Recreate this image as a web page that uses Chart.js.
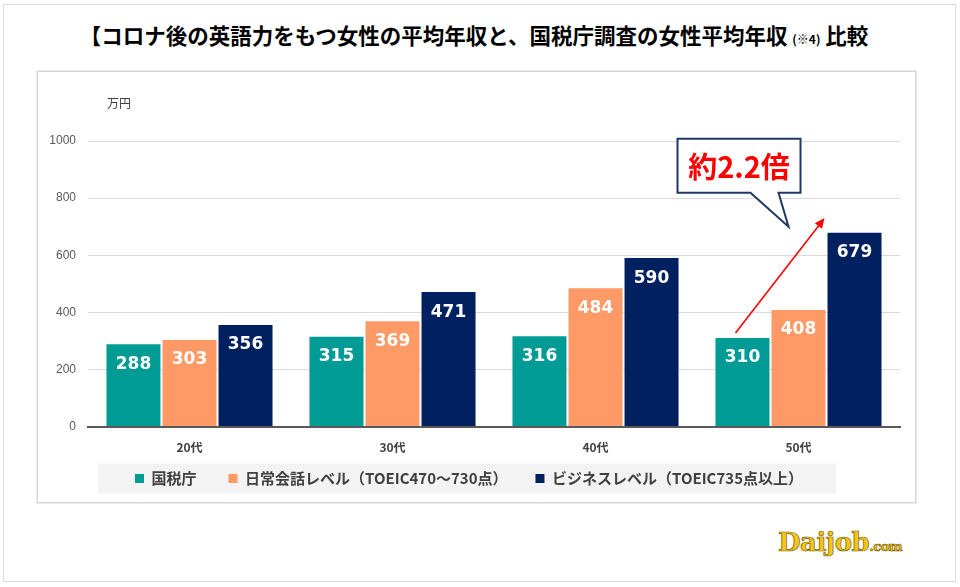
<!DOCTYPE html>
<html lang="ja">
<head>
<meta charset="utf-8">
<script src="https://cdn.jsdelivr.net/npm/chart.js@4.4.0/dist/chart.umd.min.js"></script>
<style>
  body { margin: 0; width: 960px; height: 587px; background: #fff; position: relative; overflow: hidden;
         font-family: "Noto Sans CJK JP", sans-serif; }
  #frame { position: absolute; left: 3px; top: 4px; width: 951px; height: 576px; border: 1.5px solid #dcdcdc; }
  #title { position: absolute; left: -6px; width: 960px; top: 19px; text-align: center; font-weight: bold;
           font-size: 21.5px; color: #000; }
  #title small { font-size: 12px; font-weight: bold; }
  #box { position: absolute; left: 38px; top: 72px; width: 877px; height: 430px; box-shadow: 0 0 0 1.5px #d6d6d6; }
  #logo { position: absolute; left: 778px; top: 527px; font-family: "DejaVu Serif", serif; font-weight: bold;
          font-size: 26px; color: #f4c51c; -webkit-text-stroke: 0.7px #7a5d00; letter-spacing: -0.5px; }
  #logo span { font-size: 13px; }
</style>
</head>
<body>
<div id="frame"></div>
<div id="title">【コロナ後の英語力をもつ女性の平均年収と、国税庁調査の女性平均年収 <small>(※4)</small> 比較</div>
<div id="box"><canvas id="chart" width="877" height="430"></canvas></div>
<div id="logo">Daijob<span>.com</span></div>
<script>
const categories = ["20代", "30代", "40代", "50代"];
const seriesNames = ["国税庁", "日常会話レベル（TOEIC470～730点）", "ビジネスレベル（TOEIC735点以上）"];
const ntaValues = [288, 315, 316, 310];
const dailyValues = [303, 369, 484, 408];
const businessValues = [356, 471, 590, 679];
const yTicks = [0, 200, 400, 600, 800, 1000];
const seriesColors = ["#009B95", "#FF9966", "#002060"];
const legendGaps = ["　　", "　　 ", ""];
const unitLabel = "万円";
const calloutText = "約2.2倍";
const arrowTop = 730;     // value the red arrow reaches
const calloutTip = 700;   // value where the speech bubble tip sits

const jp = '"Noto Sans CJK JP", sans-serif';

// grey panel behind the legend
const legendPanel = {
  id: "legendPanel",
  beforeDraw(chart) {
    const boxes = chart.legend.legendHitBoxes;
    if (!boxes || !boxes.length) return;
    const left = Math.min(...boxes.map(b => b.left)) - 37;
    const right = Math.max(...boxes.map(b => b.left + b.width)) + 33;
    const midY = boxes[0].top + boxes[0].height / 2;
    const ctx = chart.ctx;
    ctx.save();
    ctx.fillStyle = "#f3f3f3";
    ctx.fillRect(left, midY - 15, right - left, 30);
    ctx.restore();
  }
};

// white numbers inside the bars, unit label, callout and arrow
const extras = {
  id: "extras",
  afterDatasetsDraw(chart) {
    const ctx = chart.ctx;
    ctx.save();
    ctx.fillStyle = "#fff";
    ctx.font = 'bold 17px "DejaVu Sans", sans-serif';
    ctx.textAlign = "center";
    ctx.textBaseline = "middle";
    chart.data.datasets.forEach((ds, i) => {
      chart.getDatasetMeta(i).data.forEach((bar, j) => {
        ctx.fillText(ds.data[j], bar.x, bar.y + 20);
      });
    });
    ctx.restore();
  },
  afterDraw(chart) {
    const ctx = chart.ctx;
    const y = chart.scales.y;
    const area = chart.chartArea;
    ctx.save();
    ctx.fillStyle = "#404040";
    ctx.font = "12px " + jp;
    ctx.textAlign = "center";
    ctx.textBaseline = "middle";
    ctx.fillText(unitLabel, area.left + 31, area.top - 38);

    const last = categories.length - 1;
    const lowBar = chart.getDatasetMeta(0).data[last];
    const highBar = chart.getDatasetMeta(2).data[last];

    // red arrow
    const x0 = lowBar.x - 7, y0 = lowBar.y - 5;
    const x1 = highBar.x - highBar.width / 2 - 3, y1 = y.getPixelForValue(arrowTop);
    const ang = Math.atan2(y1 - y0, x1 - x0);
    ctx.strokeStyle = "#ff0000";
    ctx.fillStyle = "#ff0000";
    ctx.lineWidth = 1.6;
    ctx.beginPath();
    ctx.moveTo(x0, y0);
    ctx.lineTo(x1 - 7 * Math.cos(ang), y1 - 7 * Math.sin(ang));
    ctx.stroke();
    ctx.beginPath();
    ctx.moveTo(x1, y1);
    ctx.lineTo(x1 - 10 * Math.cos(ang) + 4.5 * Math.sin(ang), y1 - 10 * Math.sin(ang) - 4.5 * Math.cos(ang));
    ctx.lineTo(x1 - 10 * Math.cos(ang) - 4.5 * Math.sin(ang), y1 - 10 * Math.sin(ang) + 4.5 * Math.cos(ang));
    ctx.closePath();
    ctx.fill();

    // speech bubble
    const tipX = highBar.x - highBar.width / 2 - 39;
    const tipY = y.getPixelForValue(calloutTip);
    const bottom = tipY - 34, top = bottom - 54;
    const left = tipX - 111, right = tipX + 12;
    ctx.beginPath();
    ctx.moveTo(left, top);
    ctx.lineTo(right, top);
    ctx.lineTo(right, bottom);
    ctx.lineTo(tipX - 10, bottom);
    ctx.lineTo(tipX, tipY);
    ctx.lineTo(tipX - 38, bottom);
    ctx.lineTo(left, bottom);
    ctx.closePath();
    ctx.fillStyle = "#fff";
    ctx.fill();
    ctx.strokeStyle = "#1f3864";
    ctx.lineWidth = 2;
    ctx.stroke();
    ctx.fillStyle = "#ff0000";
    ctx.font = "bold 29px " + jp;
    ctx.fillText(calloutText, (left + right) / 2, (top + bottom) / 2 + 1);
    ctx.restore();
  }
};

new Chart(document.getElementById("chart"), {
  type: "bar",
  data: {
    labels: categories,
    datasets: [ntaValues, dailyValues, businessValues].map((vals, i) => ({
      label: seriesNames[i],
      data: vals,
      backgroundColor: seriesColors[i],
      categoryPercentage: 0.828,
      barPercentage: 0.964
    }))
  },
  options: {
    responsive: false,
    animation: false,
    layout: { padding: { top: 69, right: 15, bottom: 6, left: 0 } },
    scales: {
      x: {
        grid: { display: false },
        border: { color: "#595959", width: 2 },
        ticks: { color: "#404040", font: { family: jp, size: 12, weight: "bold" }, padding: 6 },
        afterFit(scale) { scale.height += 8; }
      },
      y: {
        min: 0,
        max: 1000,
        afterBuildTicks(scale) { scale.ticks = yTicks.map(v => ({ value: v })); },
        grid: { color: "#d9d9d9", drawTicks: false },
        border: { display: false },
        ticks: {
          color: "#595959",
          font: { family: '"Liberation Sans", sans-serif', size: 12 },
          padding: 12,
          callback: v => String(v)
        },
        afterFit(scale) { scale.width = 50; }
      }
    },
    plugins: {
      tooltip: { enabled: false },
      legend: {
        position: "bottom",
        labels: {
          boxWidth: 9,
          boxHeight: 9,
          padding: 2,
          color: "#404040",
          font: { family: jp, size: 15, weight: "bold" },
          generateLabels(chart) {
            return chart.data.datasets.map((ds, i) => ({
              text: ds.label + legendGaps[i],
              fillStyle: ds.backgroundColor,
              strokeStyle: ds.backgroundColor,
              lineWidth: 0,
              datasetIndex: i,
              fontColor: "#404040"
            }));
          }
        }
      }
    }
  },
  plugins: [legendPanel, extras]
});
</script>
</body>
</html>
